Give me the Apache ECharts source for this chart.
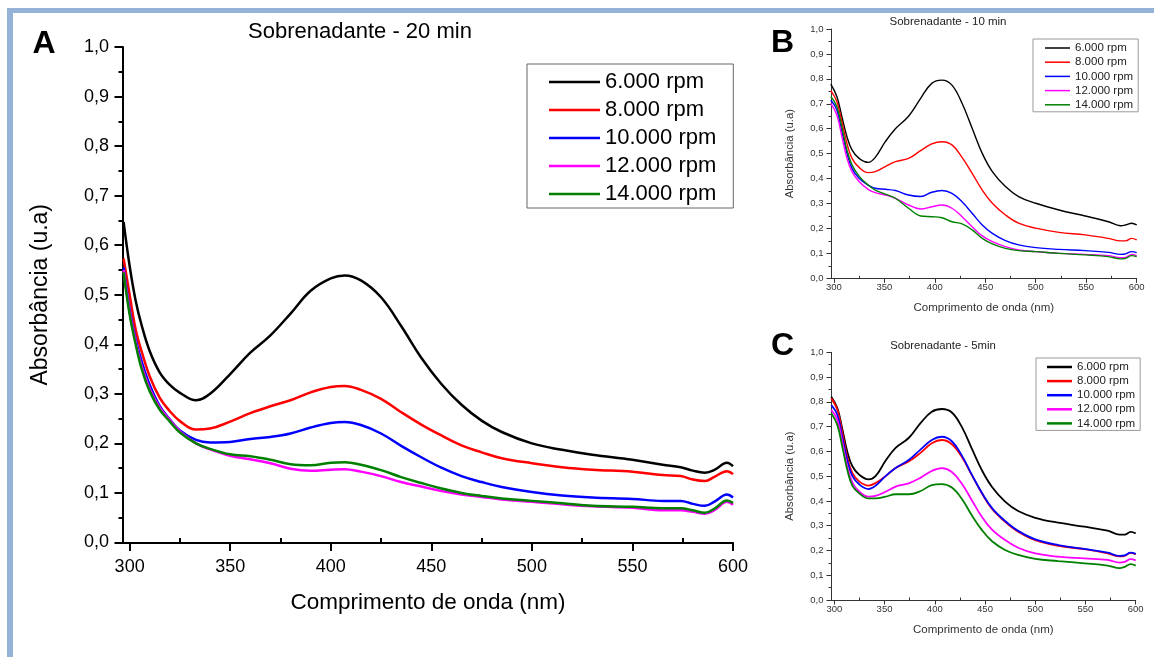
<!DOCTYPE html>
<html>
<head>
<meta charset="utf-8">
<script src="https://cdn.jsdelivr.net/npm/echarts@6/dist/echarts.min.js"></script>
<style>
  html, body { margin: 0; padding: 0; background: #fff; }
  #container { width: 1154px; height: 657px; }
</style>
</head>
<body>
<div id="container"></div>
<script>
var FONT = "'Liberation Sans', Arial, sans-serif";

// nomes das series
var names = ['6.000 rpm', '8.000 rpm', '10.000 rpm', '12.000 rpm', '14.000 rpm'];
var colors = ['#000000', '#ff0000', '#0000ff', '#ff00ff', '#008000'];

// ticks do eixo x
var majorX = [300, 350, 400, 450, 500, 550, 600];
var minorX = [325, 375, 425, 475, 525, 575];

// A - 20 min
var wlA = [297, 300, 303, 306, 310, 315, 320, 325, 333, 340, 350, 360, 370, 380, 390, 400, 407, 415, 425, 435, 445, 455, 465, 475, 485, 500, 515, 530, 550, 565, 574, 580, 586, 591, 597, 600];
var a6  = [0.647, 0.558, 0.488, 0.438, 0.386, 0.343, 0.318, 0.302, 0.287, 0.300, 0.340, 0.383, 0.418, 0.462, 0.508, 0.533, 0.539, 0.529, 0.495, 0.437, 0.373, 0.320, 0.278, 0.246, 0.223, 0.200, 0.187, 0.177, 0.167, 0.157, 0.152, 0.145, 0.141, 0.147, 0.161, 0.154];
var a8  = [0.573, 0.50, 0.43, 0.385, 0.335, 0.292, 0.265, 0.245, 0.228, 0.230, 0.244, 0.261, 0.275, 0.287, 0.303, 0.314, 0.316, 0.308, 0.290, 0.263, 0.238, 0.216, 0.196, 0.182, 0.170, 0.160, 0.152, 0.147, 0.143, 0.136, 0.134, 0.127, 0.124, 0.133, 0.144, 0.138];
var a10 = [0.555, 0.47, 0.41, 0.365, 0.318, 0.275, 0.248, 0.226, 0.207, 0.202, 0.203, 0.209, 0.213, 0.220, 0.232, 0.241, 0.243, 0.237, 0.220, 0.195, 0.172, 0.151, 0.134, 0.122, 0.112, 0.102, 0.095, 0.091, 0.088, 0.084, 0.084, 0.078, 0.074, 0.083, 0.097, 0.091];
var a12 = [0.55, 0.465, 0.405, 0.355, 0.31, 0.272, 0.247, 0.224, 0.200, 0.188, 0.175, 0.168, 0.160, 0.149, 0.145, 0.147, 0.148, 0.143, 0.134, 0.122, 0.113, 0.104, 0.097, 0.092, 0.087, 0.082, 0.077, 0.073, 0.070, 0.065, 0.065, 0.062, 0.058, 0.066, 0.082, 0.076];
var a14 = [0.545, 0.46, 0.40, 0.35, 0.305, 0.268, 0.244, 0.222, 0.200, 0.189, 0.178, 0.174, 0.167, 0.158, 0.156, 0.161, 0.162, 0.157, 0.146, 0.132, 0.120, 0.109, 0.100, 0.094, 0.089, 0.084, 0.079, 0.074, 0.072, 0.069, 0.069, 0.065, 0.060, 0.069, 0.085, 0.080];

// B - 10 min e C - 5 min
var wlBC = [297, 303, 308, 313, 318, 325, 334, 341, 351, 361, 374, 386, 397, 407, 417, 427, 437, 447, 457, 470, 483, 500, 523, 549, 572, 584, 589, 595, 600];
var b6  = [0.779, 0.729, 0.648, 0.568, 0.515, 0.481, 0.465, 0.485, 0.548, 0.600, 0.650, 0.722, 0.782, 0.795, 0.775, 0.702, 0.602, 0.501, 0.428, 0.368, 0.328, 0.301, 0.274, 0.250, 0.227, 0.211, 0.214, 0.221, 0.214];
var b8  = [0.753, 0.709, 0.628, 0.541, 0.481, 0.445, 0.424, 0.428, 0.448, 0.468, 0.481, 0.512, 0.539, 0.548, 0.535, 0.485, 0.421, 0.354, 0.301, 0.254, 0.221, 0.201, 0.184, 0.174, 0.160, 0.150, 0.150, 0.160, 0.154];
var b10 = [0.715, 0.675, 0.588, 0.501, 0.441, 0.401, 0.374, 0.361, 0.357, 0.352, 0.334, 0.328, 0.345, 0.352, 0.341, 0.307, 0.261, 0.214, 0.180, 0.151, 0.134, 0.123, 0.116, 0.111, 0.104, 0.096, 0.098, 0.107, 0.103];
var b12 = [0.702, 0.655, 0.568, 0.481, 0.428, 0.388, 0.357, 0.344, 0.334, 0.321, 0.294, 0.278, 0.287, 0.294, 0.281, 0.247, 0.207, 0.170, 0.147, 0.127, 0.114, 0.107, 0.100, 0.096, 0.091, 0.083, 0.084, 0.096, 0.091];
var b14 = [0.729, 0.689, 0.606, 0.515, 0.455, 0.410, 0.374, 0.354, 0.338, 0.321, 0.281, 0.250, 0.247, 0.243, 0.227, 0.218, 0.194, 0.160, 0.138, 0.120, 0.111, 0.107, 0.100, 0.094, 0.087, 0.078, 0.080, 0.091, 0.087];

var c6  = [0.821, 0.775, 0.690, 0.598, 0.540, 0.505, 0.487, 0.500, 0.562, 0.614, 0.654, 0.715, 0.760, 0.771, 0.757, 0.698, 0.610, 0.523, 0.456, 0.397, 0.359, 0.332, 0.312, 0.296, 0.280, 0.264, 0.264, 0.275, 0.269];
var c8  = [0.814, 0.768, 0.675, 0.575, 0.512, 0.478, 0.462, 0.472, 0.500, 0.533, 0.559, 0.595, 0.633, 0.646, 0.629, 0.577, 0.503, 0.430, 0.368, 0.316, 0.276, 0.242, 0.219, 0.205, 0.188, 0.176, 0.178, 0.190, 0.184];
var c10 = [0.787, 0.748, 0.656, 0.563, 0.500, 0.466, 0.448, 0.461, 0.500, 0.533, 0.565, 0.608, 0.646, 0.659, 0.641, 0.583, 0.505, 0.432, 0.371, 0.319, 0.279, 0.245, 0.222, 0.206, 0.191, 0.178, 0.180, 0.191, 0.186];
var c12 = [0.767, 0.728, 0.636, 0.537, 0.474, 0.437, 0.417, 0.420, 0.437, 0.458, 0.471, 0.494, 0.521, 0.532, 0.517, 0.469, 0.402, 0.335, 0.284, 0.242, 0.211, 0.188, 0.175, 0.168, 0.162, 0.151, 0.154, 0.165, 0.160];
var c14 = [0.754, 0.707, 0.617, 0.524, 0.461, 0.430, 0.410, 0.410, 0.417, 0.427, 0.427, 0.440, 0.464, 0.468, 0.454, 0.408, 0.341, 0.282, 0.237, 0.202, 0.182, 0.166, 0.157, 0.148, 0.139, 0.129, 0.134, 0.145, 0.139];

var dom = document.getElementById('container');
var myChart = echarts.init(dom);

var comma = function (v) { return v.toFixed(1).replace('.', ','); };

// eixos de cada painel
var makeX = function (grid, xmin, s) {
    return [
        {
            type: 'value', gridIndex: grid, min: xmin, max: 600,
            name: 'Comprimento de onda (nm)', nameLocation: 'middle', nameGap: s.nameGap,
            nameTextStyle: { fontSize: s.nameSize, color: s.color, fontFamily: FONT },
            axisLine: { show: true, onZero: false, lineStyle: { color: s.color, width: s.lw } },
            axisTick: { show: true, inside: false, customValues: majorX, length: s.major, lineStyle: { color: s.color, width: s.lw } },
            axisLabel: { customValues: majorX, fontSize: s.labelSize, color: s.labelColor, margin: s.xMargin, fontFamily: FONT },
            splitLine: { show: false }
        },
        {
            type: 'value', gridIndex: grid, min: xmin, max: 600,
            axisLine: { show: false },
            axisTick: { show: true, inside: false, customValues: minorX, length: s.minor, lineStyle: { color: s.color, width: s.lw } },
            axisLabel: { show: false },
            splitLine: { show: false }
        }
    ];
};
var makeY = function (grid, s) {
    return {
        type: 'value', gridIndex: grid, min: 0, max: 1, interval: 0.1,
        name: 'Absorbância (u.a)', nameLocation: 'middle', nameGap: s.yNameGap,
        nameTextStyle: { fontSize: s.yNameSize, color: s.color, fontFamily: FONT },
        axisLine: { show: true, lineStyle: { color: s.color, width: s.lw } },
        axisTick: { show: true, inside: false, length: s.major, lineStyle: { color: s.color, width: s.lw } },
        minorTick: { show: true, splitNumber: 2, length: s.minor, lineStyle: { color: s.color, width: s.lw } },
        axisLabel: { formatter: comma, fontSize: s.labelSize, color: s.labelColor, margin: s.yMargin, fontFamily: FONT },
        splitLine: { show: false }
    };
};

var styleA = { color: '#000', labelColor: '#000', lw: 2, major: 8.5, minor: 4.5, labelSize: 18, xMargin: 15.5, yMargin: 14, nameGap: 49, nameSize: 22.5, yNameGap: 71, yNameSize: 23 };
var styleB = { color: '#333', labelColor: '#333', lw: 1, major: 4.5, minor: 2.5, labelSize: 9.5, xMargin: 4.5, yMargin: 7.5, nameGap: 24, nameSize: 11.5, yNameGap: 36, yNameSize: 11.3 };
var styleC = styleB;

var xAxes = [].concat(makeX(0, 296.7, styleA), makeX(1, 297.2, styleB), makeX(2, 296.7, styleC));
var yAxes = [makeY(0, styleA), makeY(1, styleB), makeY(2, styleC)];

var series = [];
var addPanel = function (wl, sets, xIdx, yIdx, width) {
    sets.forEach(function (vals, i) {
        series.push({
            name: names[i],
            type: 'line',
            xAxisIndex: xIdx,
            yAxisIndex: yIdx,
            smooth: 0.4,
            symbol: 'none',
            lineStyle: { color: colors[i], width: width },
            itemStyle: { color: colors[i] },
            data: wl.map(function (w, k) { return [w, vals[k]]; })
        });
    });
};
addPanel(wlA, [a6, a8, a10, a12, a14], 0, 0, 2.5);
addPanel(wlBC, [b6, b8, b10, b12, b14], 2, 1, 1.4);
addPanel(wlBC, [c6, c8, c10, c12, c14], 4, 2, 1.8);

var txt = function (x, y, text, size, weight, color) {
    return {
        type: 'text', x: x, y: y, silent: true,
        style: { text: text, fontSize: size, fontWeight: weight || 'normal', fontFamily: FONT, fill: color || '#000', align: 'center', verticalAlign: 'middle' }
    };
};

option = {
    backgroundColor: '#fff',
    animation: false,
    grid: [
        { left: 123, top: 47, width: 610, height: 495.5 },
        { left: 831, top: 29, width: 305.7, height: 249.3 },
        { left: 831, top: 352.3, width: 304.7, height: 247.7 }
    ],
    xAxis: xAxes,
    yAxis: yAxes,
    legend: [
        {
            orient: 'vertical', left: 527, top: 64, data: names, icon: 'rect',
            itemWidth: 51, itemHeight: 2.5, itemGap: 6, padding: [7, 17, 3, 22],
            borderColor: '#666', borderWidth: 1, selectedMode: false,
            textStyle: { fontSize: 22, lineHeight: 22, color: '#000', fontFamily: FONT }
        },
        {
            orient: 'vertical', left: 1033, top: 39, data: names, icon: 'rect',
            itemWidth: 25, itemHeight: 1.5, itemGap: 2.2, padding: [3, 5, 1, 12],
            borderColor: '#999', borderWidth: 1, selectedMode: false,
            textStyle: { fontSize: 11.5, lineHeight: 12, color: '#222', fontFamily: FONT }
        },
        {
            orient: 'vertical', left: 1036, top: 358, data: names, icon: 'rect',
            itemWidth: 25, itemHeight: 2.5, itemGap: 2.1, padding: [3, 5, 1, 11],
            borderColor: '#999', borderWidth: 1, selectedMode: false,
            textStyle: { fontSize: 11.5, lineHeight: 12, color: '#222', fontFamily: FONT }
        }
    ],
    graphic: [
        { type: 'rect', silent: true, shape: { x: 7, y: 8, width: 6, height: 649 }, style: { fill: '#95b3d7' } },
        { type: 'rect', silent: true, shape: { x: 7, y: 8, width: 1147, height: 5 }, style: { fill: '#95b3d7' } },
        txt(360, 31.5, 'Sobrenadante - 20 min', 22),
        txt(948, 22.3, 'Sobrenadante - 10 min', 11.5, 'normal', '#222'),
        txt(943, 345.7, 'Sobrenadante - 5min', 11.3, 'normal', '#222'),
        txt(44, 44, 'A', 32, 'bold'),
        txt(782.5, 43.5, 'B', 32, 'bold'),
        txt(782.5, 346, 'C', 32, 'bold')
    ],
    series: series
};

if (option && typeof option === 'object') {
    myChart.setOption(option, true);
}
</script>
</body>
</html>
